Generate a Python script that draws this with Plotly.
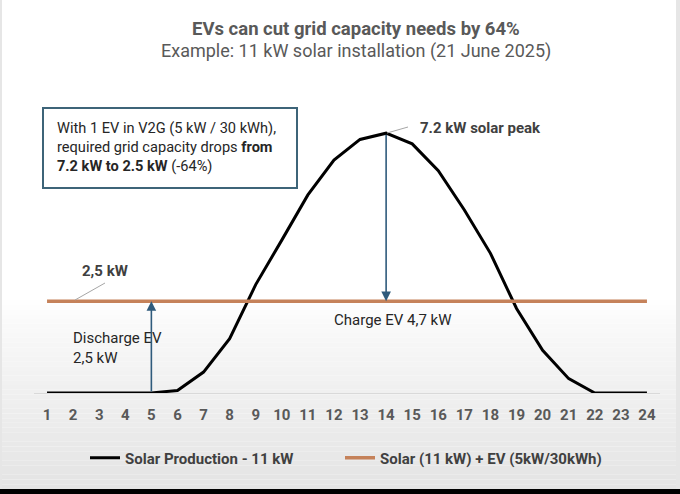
import plotly.graph_objects as go

# hourly values, 21 June 2025, 11 kW installation
HOURS = list(range(1, 25))
SOLAR_KW = [0, 0, 0, 0, 0, 0.07, 0.57, 1.48, 2.95, 4.16, 5.39, 6.34,
            6.90, 7.07, 6.78, 6.05, 4.98, 3.80, 2.30, 1.16, 0.39, 0, 0, 0]
GRID_KW = [2.5] * 24
PEAK_HOUR = 14
DISCHARGE_HOUR = 5

SOLAR_NAME = "Solar Production - 11 kW"
GRID_NAME = "Solar (11 kW) + EV (5kW/30kWh)"

W, H = 680, 494
L, R, T, B = 34, 20, 99, 101
FONT = "Roboto, Arial, sans-serif"
BLUE = "#2F5B7C"
ORANGE = "#C5825A"


def px(x):
    return (x - L) / (W - L - R)


def py(y):
    return (H - B - y) / (H - T - B)


fig = go.Figure()
fig.add_trace(go.Scatter(x=HOURS, y=SOLAR_KW, name=SOLAR_NAME, mode="lines",
                         line=dict(color="black", width=3),
                         legend="legend", showlegend=True))
fig.add_trace(go.Scatter(x=HOURS, y=GRID_KW, name=GRID_NAME, mode="lines",
                         line=dict(color=ORANGE, width=3.5),
                         legend="legend2", showlegend=True))

shapes = []
# soft gray gradient toward the bottom
n = 40
top, bot = 300, 489
for i in range(n):
    y0 = top + (bot - top) * i / n
    y1 = top + (bot - top) * (i + 1) / n
    g = round(255 - 27 * ((i + 0.5) / n) ** 0.8)
    shapes.append(dict(type="rect", xref="paper", yref="paper", layer="below",
                       x0=px(0), x1=px(W), y0=py(y0), y1=py(y1),
                       fillcolor=f"rgb({g},{g},{g})", line=dict(width=0)))
# thin frame strips at the sides, black band at the bottom
for x0, x1 in [(0, 2), (676, W)]:
    shapes.append(dict(type="rect", xref="paper", yref="paper", layer="below",
                       x0=px(x0), x1=px(x1), y0=py(0), y1=py(489),
                       fillcolor="#E6E6E6", line=dict(width=0)))
shapes.append(dict(type="rect", xref="paper", yref="paper",
                   x0=px(0), x1=px(W), y0=py(489), y1=py(H),
                   fillcolor="black", line=dict(width=0)))
# note box
shapes.append(dict(type="rect", xref="paper", yref="paper",
                   x0=px(43), x1=px(297), y0=py(108), y1=py(188),
                   line=dict(color="#3D6478", width=2), fillcolor="white"))
# leader lines
shapes.append(dict(type="line", xref="paper", yref="paper",
                   x0=px(387), y0=py(133), x1=px(408), y1=py(127),
                   line=dict(color="#A6A6A6", width=1)))
shapes.append(dict(type="line", xref="paper", yref="paper",
                   x0=px(75), y0=py(300), x1=px(105), y1=py(283),
                   line=dict(color="#A6A6A6", width=1)))

peak_val = SOLAR_KW[HOURS.index(PEAK_HOUR)]
grid_val = GRID_KW[0]


def note(text, x, y, size=15, color="#262626", **kw):
    return dict(text=text, xref="paper", yref="paper", x=px(x), y=py(y),
                xanchor=kw.pop("xanchor", "left"), yanchor="middle", showarrow=False,
                font=dict(size=size, color=color), **kw)


annotations = [
    note("<b>EVs can cut grid capacity needs by 64%</b>", 356, 29, size=18.5,
         color="#595959", xanchor="center"),
    note("Example: 11 kW solar installation (21 June 2025)", 356, 51, size=18,
         color="#595959", xanchor="center"),
    note("With 1 EV in V2G (5 kW / 30 kWh),<br>required grid capacity drops <b>from</b>"
         "<br><b>7.2 kW to 2.5 kW</b> (-64%)", 55, 147, size=14.6, align="left"),
    note("<b>7.2 kW solar peak</b>", 418, 128, color="#404040"),
    note("<b>2,5 kW</b>", 80, 271, color="#404040"),
    note("Charge EV 4,7 kW", 332, 320),
    note("Discharge EV<br>2,5 kW", 71, 348, align="left"),
    # charge arrow: peak down to grid line
    dict(x=PEAK_HOUR, y=grid_val, ax=PEAK_HOUR, ay=peak_val, xref="x", yref="y",
         axref="x", ayref="y", text="", showarrow=True, arrowhead=2, arrowsize=1.2,
         arrowwidth=1.6, arrowcolor=BLUE),
    # discharge arrow: zero up to grid line
    dict(x=DISCHARGE_HOUR, y=grid_val, ax=DISCHARGE_HOUR, ay=0, xref="x", yref="y",
         axref="x", ayref="y", text="", showarrow=True, arrowhead=2, arrowsize=1.2,
         arrowwidth=1.6, arrowcolor=BLUE),
]

legend_style = dict(orientation="h", xanchor="left", y=py(458), yanchor="middle",
                    font=dict(size=15, color="#404040", weight="bold"),
                    bgcolor="rgba(0,0,0,0)", itemwidth=30)

fig.update_layout(
    width=W, height=H,
    margin=dict(l=L, r=R, t=T, b=B),
    paper_bgcolor="white", plot_bgcolor="rgba(0,0,0,0)",
    font=dict(family=FONT, color="#595959"),
    shapes=shapes, annotations=annotations,
    showlegend=True,
    legend=dict(x=px(85), **legend_style),
    legend2=dict(x=px(340), **legend_style),
)
fig.update_xaxes(range=[0.5, 24.5], tickmode="array", tickvals=HOURS, showgrid=False,
                 zeroline=False, showline=True, linecolor="#D9D9D9", linewidth=1,
                 ticks="", ticklabelstandoff=8,
                 tickfont=dict(size=15, color="#595959", weight="bold"))
fig.update_yaxes(range=[0, 8], visible=False)

# drop the default page margin so the chart sits at the window's corner
fig.write_html("out.html", config={"displayModeBar": False},
               post_script="document.body.style.margin = '0';")
